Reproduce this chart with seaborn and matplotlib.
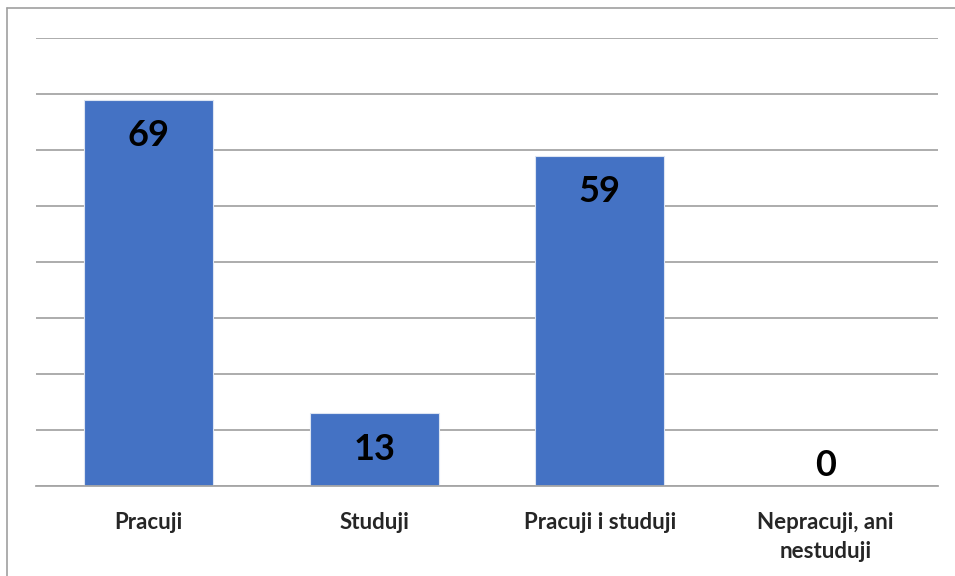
import matplotlib
matplotlib.use("Agg")
import matplotlib.pyplot as plt
import seaborn as sns
import pandas as pd
from matplotlib.lines import Line2D

categories = ["Pracuji", "Studuji", "Pracuji i studuji", "Nepracuji, ani\nnestuduji"]
values = [69, 13, 59, 0]

sns.set_theme(style="white")
plt.rcParams["font.family"] = ["Lato", "DejaVu Sans"]

df = pd.DataFrame({"kategorie": categories, "pocet": values})

fig = plt.figure(figsize=(9.55, 5.76), dpi=100)
ax = fig.add_axes([36 / 955, 1 - 486 / 576, (938 - 36) / 955, (486 - 38) / 576])

sns.barplot(data=df, x="kategorie", y="pocet", color="#4472C4", width=0.572,
            saturation=1, ax=ax, zorder=3, edgecolor="#DCE4F2", linewidth=0.8)

ax.set_ylim(0, 80)
ax.set_yticks(range(0, 81, 10))
ax.yaxis.grid(True, color="#A6A6A6", linewidth=1.3, zorder=0)
ax.set_yticklabels([])
ax.tick_params(axis="y", length=0)
ax.tick_params(axis="x", length=0, pad=19)
for s in ["top", "right", "left"]:
    ax.spines[s].set_visible(False)
ax.spines["bottom"].set_color("#A6A6A6")
ax.spines["bottom"].set_linewidth(1.3)
ax.spines["bottom"].set_zorder(5)
ax.set_xlabel("")
ax.set_ylabel("")
for lab in ax.get_xticklabels():
    lab.set_fontweight("bold")
    lab.set_fontstyle("normal")
    lab.set_fontsize(16)
    lab.set_linespacing(1.45)
    lab.set_verticalalignment("top")

for i, v in enumerate(values):
    offset = -26 if v > 0 else 15
    ax.annotate(str(v), (i, v), xytext=(0, offset), textcoords="offset points",
                ha="center", va="center", fontsize=26, fontweight="bold",
                fontstyle="normal", color="black", zorder=4)

# chart frame
fig.add_artist(Line2D([7 / 955, 7 / 955], [0, 1 - 8 / 576], transform=fig.transFigure,
                      color="#A0A0A0", linewidth=1.2))
fig.add_artist(Line2D([7 / 955, 1], [1 - 8 / 576, 1 - 8 / 576], transform=fig.transFigure,
                      color="#A0A0A0", linewidth=1.2))

fig.savefig("out.png", dpi=100)
